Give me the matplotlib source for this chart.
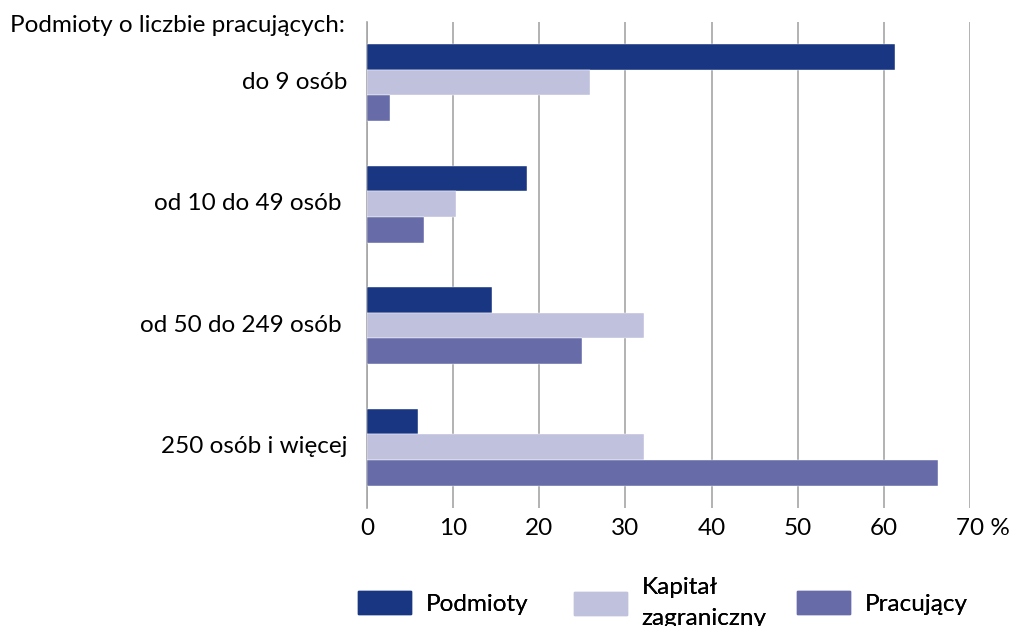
import matplotlib.pyplot as plt
import numpy as np
from matplotlib.patches import Patch
from matplotlib.transforms import ScaledTranslation

# dane (% udziału)
categories = ["do 9 osób", "od 10 do 49 osób ", "od 50 do 249 osób ", "250 osób i więcej"]
podmioty = [61.3, 18.6, 14.5, 5.9]
kapital = [25.9, 10.3, 32.2, 32.2]
pracujacy = [2.7, 6.6, 24.9, 66.3]
series_names = ["Podmioty", "Kapitał\nzagraniczny", "Pracujący"]
xticks = [0, 10, 20, 30, 40, 50, 60, 70]
xtick_labels = ["0", "10", "20", "30", "40", "50", "60", "70 %"]

colors = ["#183682", "#BFC1DD", "#676CA8"]
plt.rcParams["font.family"] = ["Lato", "DejaVu Sans"]
fs = 17.5

fig = plt.figure(figsize=(10.13, 6.26), dpi=100)
ax = fig.add_axes([0.3623, 0.1885, 0.9576 - 0.3623, 0.9649 - 0.1885])

y = np.arange(len(categories))
h = 0.21
for i, vals in enumerate([podmioty, kapital, pracujacy]):
    ax.barh(y + (i - 1) * h, vals, height=h, color=colors[i], zorder=3,
            edgecolor="white", linewidth=0.3)

ax.set_xlim(0, 70)
ax.set_ylim(len(categories) - 0.5, -0.5)
ax.set_xticks(xticks)
ax.set_xticklabels(xtick_labels, fontsize=fs)
ax.set_yticks(y)
ax.set_yticklabels(categories, fontsize=fs)
ax.tick_params(axis="both", length=0)
ax.tick_params(axis="x", pad=7)
ax.tick_params(axis="y", pad=14)
# "70" wycentrowane na linii, "%" doklejony z prawej
last = ax.get_xticklabels()[-1]
last.set_transform(last.get_transform() + ScaledTranslation(0.13, 0, fig.dpi_scale_trans))
# etykiety kategorii lekko powyżej środka grupy
for lbl in ax.get_yticklabels():
    lbl.set_transform(lbl.get_transform() + ScaledTranslation(0, 0.025, fig.dpi_scale_trans))

ax.grid(axis="x", color="#A6A6A6", linewidth=1.2, zorder=0)
for s in ["top", "right", "bottom"]:
    ax.spines[s].set_visible(False)
ax.spines["left"].set_color("#A6A6A6")
ax.spines["left"].set_linewidth(1.2)

fig.text(0.01, 0.96, "Podmioty o liczbie pracujących:", fontsize=fs, va="center", ha="left")

# legenda - trzy osobne wpisy, żeby ustawić je jak w oryginale
leg_x = [358, 574, 797]
for c, name, px in zip(colors, series_names, leg_x):
    lg = fig.legend([Patch(color=c)], [name], loc="center left",
                    bbox_to_anchor=(px / 1013, 1 - 603 / 626), frameon=False,
                    fontsize=fs, handlelength=2.2, handleheight=1.1,
                    handletextpad=0.58, borderpad=0, borderaxespad=0)
    for t in lg.get_texts():
        t.set_linespacing(1.6)
    fig.add_artist(lg)

fig.savefig("out.png", dpi=100)
